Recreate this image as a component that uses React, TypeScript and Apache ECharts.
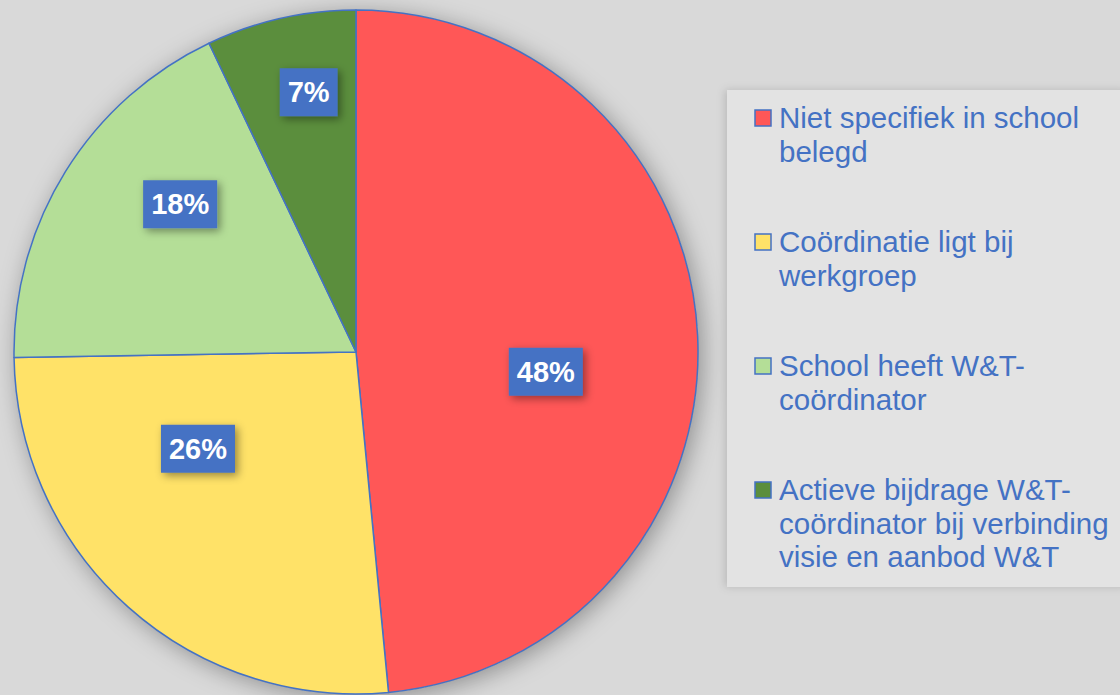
import React, { useEffect, useRef } from "react";
import * as echarts from "echarts";

const categories = [
  "Niet specifiek in school\nbelegd",
  "Coördinatie ligt bij\nwerkgroep",
  "School heeft W&T-\ncoördinator",
  "Actieve bijdrage W&T-\ncoördinator bij verbinding\nvisie en aanbod W&T",
];
const values = [48, 26, 18, 7];
const colors = ["#FF5757", "#FFE268", "#B4DE97", "#5B8E3D"];
const labelOffsets = [
  [16, 28],
  [-42, -33],
  [-28, -56],
  [-9, -90],
];

const BLUE = "#4472C4";
const CX = 356;
const CY = 352;
const R = 342;

export default function App() {
  const ref = useRef<HTMLDivElement>(null);
  useEffect(() => {
    if (!ref.current) return;
    const chart = echarts.init(ref.current, null, { renderer: "svg" });
    const legendItems: any[] = [];
    categories.forEach((name, i) => {
      const cy = 118 + i * 124;
      legendItems.push({
        type: "rect",
        shape: { x: 755, y: cy - 8, width: 16, height: 16 },
        style: { fill: colors[i], stroke: BLUE, lineWidth: 1.5 },
        z: 10,
      });
      legendItems.push({
        type: "text",
        x: 779,
        y: cy - 17,
        style: {
          text: name,
          fill: BLUE,
          font: '29.5px "Liberation Sans", Arial, sans-serif',
          lineHeight: 33.5,
          verticalAlign: "top",
          align: "left",
        },
        z: 10,
      });
    });
    chart.setOption({
      animation: false,
      backgroundColor: "#d9d9d9",
      graphic: [
        {
          type: "rect",
          shape: { x: 727, y: 90, width: 400, height: 497 },
          style: {
            fill: "#e3e3e3",
            shadowBlur: 8,
            shadowColor: "rgba(0,0,0,0.15)",
            shadowOffsetX: -2,
          },
          z: 1,
        },
        {
          type: "circle",
          shape: { cx: CX, cy: CY, r: R },
          style: {
            fill: "#cccccc",
            shadowBlur: 25,
            shadowColor: "rgba(0,0,0,0.35)",
            shadowOffsetX: 4,
            shadowOffsetY: 4,
          },
          z: 0,
        },
        ...legendItems,
      ],
      series: [
        {
          type: "pie",
          center: [CX, CY],
          radius: [0, R],
          startAngle: 90,
          clockwise: true,
          data: values.map((v, i) => ({
            value: v,
            name: categories[i],
            itemStyle: { color: colors[i] },
          })),
          itemStyle: { borderColor: BLUE, borderWidth: 1.5 },
          label: {
            show: true,
            position: "inside",
            formatter: "{c}%",
            color: "#ffffff",
            fontFamily: '"Liberation Sans", Arial, sans-serif',
            fontWeight: "bold",
            fontSize: 29,
            lineHeight: 30,
            backgroundColor: BLUE,
            padding: [9, 8],
            shadowBlur: 8,
            shadowColor: "rgba(0,0,0,0.4)",
            shadowOffsetX: 3,
            shadowOffsetY: 3,
          },
          labelLayout: (params: any) => ({
            dx: labelOffsets[params.dataIndex][0],
            dy: labelOffsets[params.dataIndex][1],
          }),
          labelLine: { show: false },
          emphasis: { disabled: true },
        },
      ],
    });
    return () => chart.dispose();
  }, []);
  return (
    <div
      ref={ref}
      style={{ position: "fixed", left: 0, top: 0, width: 1120, height: 695 }}
    />
  );
}
